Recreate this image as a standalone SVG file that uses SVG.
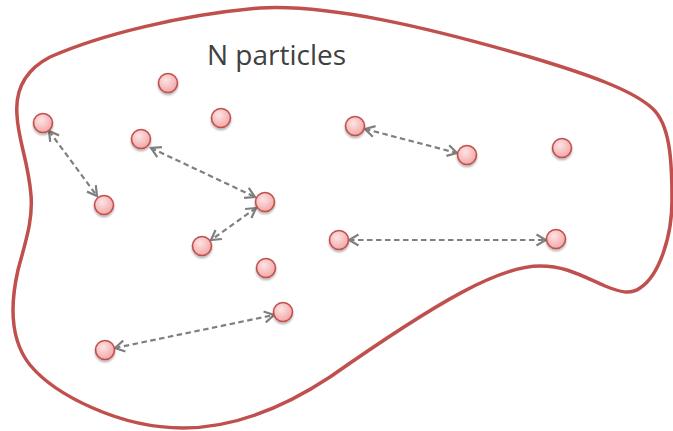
<svg xmlns="http://www.w3.org/2000/svg" width="673" height="431" viewBox="0 0 673 431">
<defs>
<radialGradient id="pg" cx="0.4" cy="0.35" r="0.7">
<stop offset="0" stop-color="#fde4e4"/>
<stop offset="1" stop-color="#f3a3a3"/>
</radialGradient>
<filter id="sh" x="-50%" y="-50%" width="200%" height="200%">
<feGaussianBlur in="SourceAlpha" stdDeviation="1"/>
<feOffset dx="0" dy="1.5" result="b"/>
<feComponentTransfer><feFuncA type="linear" slope="0.3"/></feComponentTransfer>
<feMerge><feMergeNode/><feMergeNode in="SourceGraphic"/></feMerge>
</filter>
<marker id="ah" viewBox="0 0 14 14" refX="12" refY="7" markerWidth="14" markerHeight="14" markerUnits="userSpaceOnUse" orient="auto-start-reverse">
<path d="M2.5,1.5 L12,7 L2.5,12.5" fill="none" stroke="#7f7f7f" stroke-width="2.2"/>
</marker>
</defs>
<style>
.p{fill:url(#pg);stroke:#c0504d;stroke-width:1.6;filter:url(#sh)}
.c{fill:none;stroke:#7f7f7f;stroke-width:2.2;stroke-dasharray:5.5 3.5;marker-start:url(#ah);marker-end:url(#ah)}
.lbl{font-family:"Open Sans","Noto Sans",sans-serif;font-size:28px;fill:#404040}
</style>
<g id="region">
<path d="M 17 115 C 15 90, 25 70, 50 57 C 100 35, 180 15, 260 8 C 330 4, 430 28, 530 57 C 590 75, 632 90, 652 108 C 670 124, 672 160, 672 200 C 672 235, 660 275, 640 288 C 630 295, 620 292, 605 286 C 580 275, 565 266, 540 266 C 500 266, 440 300, 330 377 C 280 410, 230 428, 183 428 C 120 428, 55 395, 30 365 C 10 340, 10 305, 18 270 C 26 240, 33 220, 31 195 C 28 160, 18 140, 17 115 Z" fill="none" stroke="#c0504d" stroke-width="3.5"/>
</g>
<g id="label"><text class="lbl" x="207" y="65">N particles</text></g>
<g id="connectors">
<line class="c" x1="49" y1="131" x2="97" y2="196"/>
<line class="c" x1="151" y1="148" x2="255" y2="197"/>
<line class="c" x1="256" y1="208" x2="211" y2="240"/>
<line class="c" x1="365" y1="129" x2="457" y2="153"/>
<line class="c" x1="349" y1="240" x2="546" y2="240"/>
<line class="c" x1="115" y1="348" x2="274" y2="315"/>
</g>
<g id="p1"><circle class="p" cx="168" cy="83" r="9.5"/></g>
<g id="p2"><circle class="p" cx="221" cy="118" r="9.5"/></g>
<g id="p3"><circle class="p" cx="43" cy="123" r="9.5"/></g>
<g id="p4"><circle class="p" cx="141" cy="139" r="9.5"/></g>
<g id="p5"><circle class="p" cx="104" cy="205" r="9.5"/></g>
<g id="p6"><circle class="p" cx="355" cy="126" r="9.5"/></g>
<g id="p7"><circle class="p" cx="467" cy="155" r="9.5"/></g>
<g id="p8"><circle class="p" cx="562" cy="148" r="9.5"/></g>
<g id="p9"><circle class="p" cx="265" cy="202" r="9.5"/></g>
<g id="p10"><circle class="p" cx="202" cy="246" r="9.5"/></g>
<g id="p11"><circle class="p" cx="339" cy="240" r="9.5"/></g>
<g id="p12"><circle class="p" cx="556" cy="239" r="9.5"/></g>
<g id="p13"><circle class="p" cx="266" cy="268" r="9.5"/></g>
<g id="p14"><circle class="p" cx="283" cy="312" r="9.5"/></g>
<g id="p15"><circle class="p" cx="105" cy="350" r="9.5"/></g>
</svg>
